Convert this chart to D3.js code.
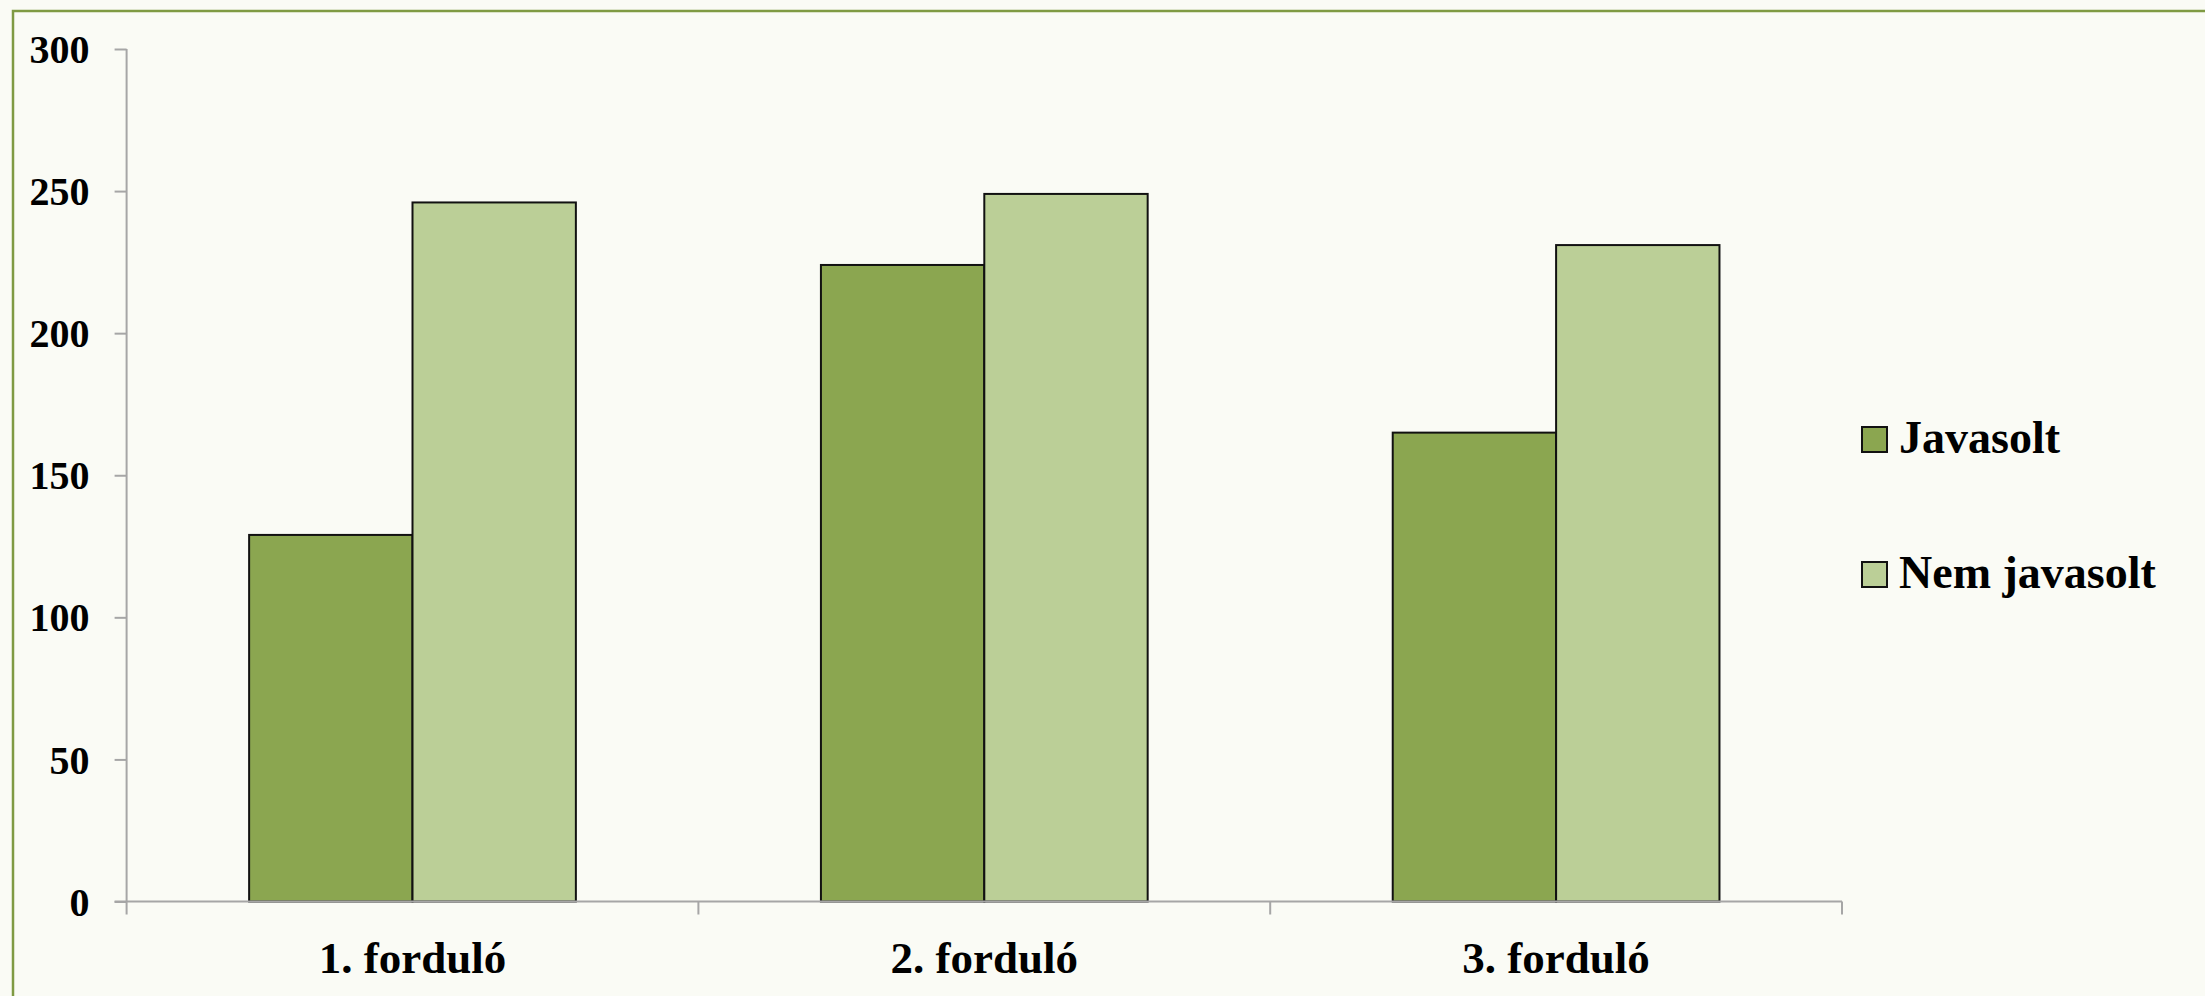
<!DOCTYPE html>
<html>
<head>
<meta charset="utf-8">
<script src="https://cdn.jsdelivr.net/npm/d3@7"></script>
<style>
  html, body { margin: 0; padding: 0; background: #FAFBF5; }
  svg { display: block; }
</style>
</head>
<body>
<svg id="chart" width="2205" height="996"></svg>
<script>
const categories = ["1. forduló", "2. forduló", "3. forduló"];
const seriesNames = ["Javasolt", "Nem javasolt"];
const javasolt = [129, 224, 165];
const nemJavasolt = [246, 249, 231];
const yTicks = [0, 50, 100, 150, 200, 250, 300];
const colors = ["#8BA650", "#BBCF97"];

(function () {
const seriesValues = [javasolt, nemJavasolt];
const data = categories.map((c, i) => ({
  cat: c,
  vals: seriesNames.map((s, j) => ({ key: s, value: seriesValues[j][i] }))
}));

const svg = d3.select("#chart");
const W = 2205, H = 996;

svg.append("rect").attr("x", 0).attr("y", 0).attr("width", W).attr("height", H).attr("fill", "#FAFBF5");
svg.append("rect").attr("x", 13).attr("y", 11).attr("width", W).attr("height", H)
  .attr("fill", "none").attr("stroke", "#7F9A43").attr("stroke-width", 2.5);

const pLeft = 126.6, pRight = 1842, pTop = 49, pBottom = 901.5;

const x0 = d3.scaleBand().domain(categories).range([pLeft, pRight]).paddingInner(0).paddingOuter(0);
const x1 = d3.scaleBand().domain(seriesNames).range([0, x0.bandwidth()]).paddingInner(0).paddingOuter(0.75);
const y = d3.scaleLinear().domain([0, 300]).range([pBottom, pTop]);
const color = d3.scaleOrdinal().domain(seriesNames).range(colors);

const font = "'Liberation Serif', 'Times New Roman', serif";

// Y axis
const yAxis = svg.append("g").attr("transform", `translate(${pLeft},0)`)
  .call(d3.axisLeft(y).tickValues(yTicks).tickSize(12).tickPadding(25));
yAxis.select(".domain").attr("stroke", "#A6A6A6").attr("stroke-width", 2)
  .attr("d", `M0,${pTop}V${pBottom}`);
yAxis.selectAll(".tick line").attr("stroke", "#A6A6A6").attr("stroke-width", 2);
yAxis.selectAll(".tick text").attr("font-family", font).attr("font-weight", "bold")
  .attr("font-size", 40).attr("fill", "#000").attr("dy", "0.34em");

// Bars
const groups = svg.append("g").selectAll("g").data(data).join("g")
  .attr("transform", d => `translate(${x0(d.cat)},0)`);
groups.selectAll("rect").data(d => d.vals).join("rect")
  .attr("x", d => x1(d.key))
  .attr("y", d => y(d.value))
  .attr("width", x1.bandwidth())
  .attr("height", d => y(0) - y(d.value))
  .attr("fill", d => color(d.key))
  .attr("stroke", "#111")
  .attr("stroke-width", 2);

// X axis
const xAxis = svg.append("g").attr("transform", `translate(0,${pBottom})`)
  .call(d3.axisBottom(x0).tickSize(0).tickPadding(0));
xAxis.select(".domain").attr("stroke", "#A6A6A6").attr("stroke-width", 2)
  .attr("d", `M${pLeft - 12},0H${pRight}`);
xAxis.selectAll(".tick line").remove();
xAxis.selectAll(".tick text").attr("font-family", font).attr("font-weight", "bold")
  .attr("font-size", 45).attr("fill", "#000").attr("y", 71).attr("dy", 0);
const bounds = categories.map(c => x0(c)).concat([x0(categories[categories.length - 1]) + x0.bandwidth()]);
xAxis.selectAll("line.bound").data(bounds).join("line").attr("class", "bound")
  .attr("x1", d => d).attr("x2", d => d).attr("y1", 0).attr("y2", 13)
  .attr("stroke", "#A6A6A6").attr("stroke-width", 2);

// Legend
const legend = svg.append("g").attr("transform", "translate(1862,427)");
const li = legend.selectAll("g").data(seriesNames).join("g")
  .attr("transform", (d, i) => `translate(0,${i * 135})`);
li.append("rect").attr("width", 25).attr("height", 25)
  .attr("fill", d => color(d)).attr("stroke", "#111").attr("stroke-width", 2);
li.append("text").attr("x", 37).attr("y", 26)
  .attr("font-family", font).attr("font-weight", "bold").attr("font-size", 46)
  .attr("fill", "#000").text(d => d);
})();
</script>
</body>
</html>
